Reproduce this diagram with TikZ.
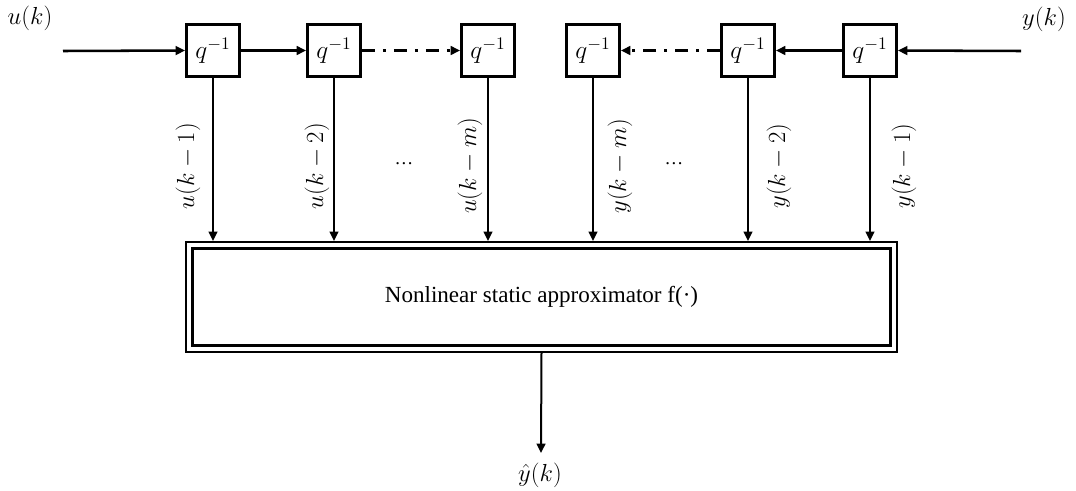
\RequirePackage{fix-cm}
\documentclass[tikz,border=0pt]{standalone}
\usepackage{fontspec}
\setmainfont{Liberation Serif}
\usetikzlibrary{arrows.meta}
\begin{document}
\begin{tikzpicture}[x=0.75pt,y=-0.75pt,
  dbox/.style={draw,line width=2.2pt,minimum width=39.75pt,minimum height=39pt,inner sep=0pt,font=\fontsize{19}{22}\selectfont},
  arr/.style={line width=1.9pt,-{Triangle[length=7pt,width=6.5pt]}},
  varr/.style={line width=1.5pt,-{Triangle[length=7pt,width=6.5pt]}},
  ddarr/.style={arr,dash pattern=on 9.75pt off 6pt on 2.25pt off 6pt},
  lab/.style={font=\fontsize{18.5}{22}\selectfont,inner sep=0pt},
  dots/.style={font=\fontsize{14}{16}\selectfont,inner sep=0pt}]
\useasboundingbox (0,0) rectangle (1076,490);

% delay boxes
\node[dbox] (b1) at (213,50.5) {$q^{-1}$};
\node[dbox] (b2) at (334,50.5) {$q^{-1}$};
\node[dbox] (b3) at (488,50.5) {$q^{-1}$};
\node[dbox] (b4) at (593,50.5) {$q^{-1}$};
\node[dbox] (b5) at (748,50.5) {$q^{-1}$};
\node[dbox] (b6) at (870,50.5) {$q^{-1}$};

% approximator (outer frame as node, inner frame inset)
\node[draw,line width=1.7pt,
      minimum width=533.25pt,minimum height=82.5pt,
      font=\fontsize{17.3}{20}\selectfont] (big) at (541.5,297) {Nonlinear static approximator f(·)};
\draw[line width=2.1pt] ([shift={(8,8)}]big.north west) rectangle ([shift={(-8,-8)}]big.south east);
\coordinate (top) at (0,241);

% inputs
\coordinate (uin) at (63,51);
\coordinate (yin) at (1021,51);
\node[lab] (uk) at (30,18) {$u(k)$};
\node[lab] (yk) at (1044,19) {$y(k)$};

% chains
\draw[arr] (uin) -- (b1.west);
\draw[arr] (b1.east) -- (b2.west);
\draw[ddarr] (b2.east) -- (b3.west);
\draw[arr] (yin) -- (b6.east);
\draw[arr] (b6.west) -- (b5.east);
\draw[ddarr] (b5.west) -- (b4.east);

% taps
\foreach \b in {b1,b2,b3,b4,b5,b6}
  \draw[varr] (\b.south) -- (\b.south |- top);

% tap labels
\node[lab,rotate=90] (l1) at (188,166) {$u(k-1)$};
\node[lab,rotate=90] (l2) at (317,166) {$u(k-2)$};
\node[dots] (d1) at (404,164) {…};
\node[lab,rotate=90] (lm) at (470,166) {$u(k-m)$};
\node[lab,rotate=90] (ym) at (620,166) {$y(k-m)$};
\node[dots] (d2) at (674,164) {…};
\node[lab,rotate=90] (y2) at (779,166) {$y(k-2)$};
\node[lab,rotate=90] (y1) at (904,166) {$y(k-1)$};

% output
\coordinate (out) at (541,453);
\draw[varr] (big.south) -- (out);
\node[lab] (yhat) at (540,475) {$\hat{y}(k)$};
\end{tikzpicture}
\end{document}
